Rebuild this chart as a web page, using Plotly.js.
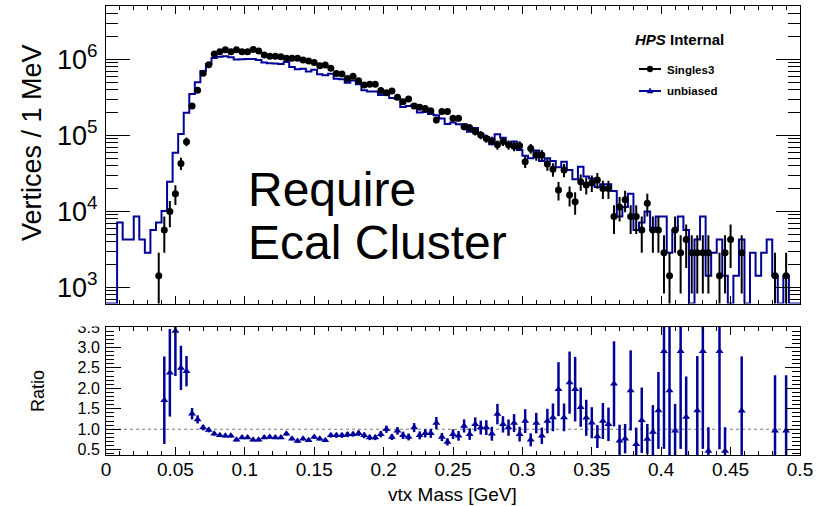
<!DOCTYPE html>
<html>
<head>
<meta charset="utf-8">
<script src="https://cdn.plot.ly/plotly-3.0.1.min.js"></script>
<style>
  html, body { margin: 0; padding: 0; background: #fff; }
  #chart { width: 825px; height: 506px; }
</style>
</head>
<body>
<div id="chart"></div>
<script>
// Vertex invariant-mass spectra in 4 MeV bins over 0 - 0.5 GeV
const BIN_WIDTH = 0.004;
const N_BINS = 125;
const MASS_MIN = 0;

// Singles3 trigger: counts and errors per bin (0 = empty bin)
const singles3Counts = [
  0, 0, 0, 0, 0, 0, 0, 0, 0, 1420,
  5680, 9940, 17040, 42700, 82400, 243000, 390000, 653000, 849000, 1170000,
  1260000, 1330000, 1260000, 1330000, 1260000, 1260000, 1350000, 1290000, 1140000, 1100000,
  1100000, 1080000, 1030000, 1030000, 1030000, 980000, 950000, 910000, 820000, 840000,
  760000, 650000, 640000, 560000, 600000, 520000, 460000, 470000, 470000, 387000,
  364000, 383000, 316000, 277000, 300000, 243000, 234000, 226000, 211000, 159000,
  205000, 205000, 167000, 167000, 130000, 126000, 112000, 101000, 91000, 85000,
  75000, 83000, 75000, 72000, 73000, 45000, 67000, 55000, 55000, 42000,
  35700, 19100, 35000, 16400, 13400, 24500, 22200, 23800, 25800, 19880,
  19880, 8520, 11360, 14200, 8520, 8520, 5680, 12780, 5680, 5680,
  2840, 1420, 5680, 2840, 4260, 2840, 2840, 2840, 2840, 0,
  1420, 2840, 4260, 0, 2840, 0, 0, 0, 0, 0,
  1420, 0, 1420, 0, 0
];
const singles3Errors = [
  0, 0, 0, 0, 0, 0, 0, 0, 0, 1420,
  2840, 3760, 4920, 7790, 10800, 18600, 23500, 30500, 34700, 40760,
  42300, 43460, 42300, 43460, 42300, 42300, 43780, 42800, 40230, 39520,
  39520, 39160, 38240, 38240, 38240, 37300, 36730, 35950, 34120, 34540,
  32850, 30380, 30150, 28200, 29190, 27170, 25560, 25830, 25830, 23440,
  22730, 23320, 21180, 19830, 20640, 18580, 18230, 17910, 17310, 15030,
  17060, 17060, 15400, 15400, 13590, 13380, 12610, 11980, 11370, 10990,
  10320, 10860, 10320, 10110, 10180, 7990, 9750, 8840, 8840, 7720,
  7120, 5210, 7050, 4830, 4360, 5900, 5610, 5810, 6050, 5310,
  5310, 3480, 4020, 4490, 3480, 3480, 2840, 4260, 2840, 2840,
  2010, 1420, 2840, 2010, 2460, 2010, 2010, 2010, 2010, 0,
  1420, 2010, 2460, 0, 2010, 0, 0, 0, 0, 0,
  1420, 0, 1420, 0, 0
];

// Unbiased trigger: counts per bin
const unbiasedCounts = [
  0, 0, 7100, 4260, 4260, 8520, 4260, 2840, 5680, 7100,
  10100, 24500, 59000, 104000, 198000, 349000, 498000, 701000, 867000, 1040000,
  1080000, 1100000, 1060000, 990000, 1000000, 1010000, 1010000, 980000, 910000, 890000,
  880000, 865000, 920000, 790000, 740000, 750000, 690000, 730000, 635000, 615000,
  645000, 555000, 545000, 490000, 525000, 470000, 392000, 376000, 376000, 340000,
  362000, 310000, 303000, 236000, 243000, 252000, 199000, 203000, 190000, 183000,
  166000, 141000, 147000, 140000, 140000, 111000, 125000, 105000, 95000, 76000,
  103000, 93000, 78000, 83000, 64000, 54000, 50000, 63000, 46000, 50000,
  46000, 38000, 45000, 35000, 26500, 38500, 28600, 27100, 20900, 22720,
  22720, 18460, 8520, 11360, 17040, 5680, 7100, 9940, 5680, 8520,
  8520, 2840, 5680, 8520, 5680, 0, 4260, 8520, 1420, 2840,
  4260, 1420, 0, 1420, 4260, 0, 2840, 1420, 2840, 4260,
  1420, 0, 1420, 0, 0
];

// unbiased / Singles3 per bin (null = not drawn)
const ratioValues = [
  null, null, null, null, null, null, null, null, null, null,
  1.71, 2.38, 3.40, 2.50, 2.42, 1.38, 1.24, 1.04, 0.98, 0.89,
  0.85, 0.84, 0.84, 0.74, 0.80, 0.80, 0.74, 0.74, 0.80, 0.81,
  0.80, 0.80, 0.89, 0.77, 0.71, 0.77, 0.73, 0.81, 0.77, 0.73,
  0.85, 0.85, 0.85, 0.87, 0.88, 0.90, 0.85, 0.80, 0.80, 0.88,
  1.00, 0.81, 0.96, 0.85, 0.81, 1.04, 0.85, 0.90, 0.90, 1.15,
  0.81, 0.69, 0.88, 0.84, 1.08, 0.88, 1.12, 1.04, 1.04, 0.89,
  1.37, 1.12, 1.04, 1.15, 0.88, 1.20, 0.74, 1.15, 0.84, 1.20,
  1.29, 1.98, 1.29, 2.14, 1.98, 1.54, 1.28, 1.16, 0.82, 1.20,
  1.12, 2.11, 0.72, 0.77, 1.95, 0.63, 1.22, 0.76, 0.93, 1.46,
  2.91, 1.95, 0.96, 2.91, 1.30, null, 1.46, 2.91, 0.47, null,
  2.91, 0.47, null, null, 1.45, null, null, null, null, null,
  0.96, null, 0.96, null, null
];
const ratioErrors = [
  null, null, null, null, null, null, null, null, null, null,
  1.07, 1.07, 1.10, 0.54, 0.37, 0.14, 0.10, 0.067, 0.056, 0.045,
  0.040, 0.040, 0.040, 0.038, 0.040, 0.040, 0.038, 0.038, 0.040, 0.041,
  0.041, 0.041, 0.045, 0.042, 0.040, 0.043, 0.042, 0.046, 0.046, 0.044,
  0.054, 0.059, 0.060, 0.064, 0.062, 0.068, 0.070, 0.066, 0.066, 0.078,
  0.089, 0.073, 0.092, 0.090, 0.083, 0.11, 0.097, 0.10, 0.11, 0.15,
  0.10, 0.09, 0.12, 0.12, 0.16, 0.14, 0.17, 0.17, 0.18, 0.17,
  0.25, 0.20, 0.20, 0.22, 0.18, 0.29, 0.16, 0.25, 0.20, 0.30,
  0.34, 0.66, 0.34, 0.76, 0.79, 0.48, 0.44, 0.38, 0.28, 0.44,
  0.41, 1.04, 0.39, 0.36, 0.98, 0.41, 0.80, 0.37, 0.66, 0.94,
  2.39, 2.39, 0.66, 2.39, 0.99, null, 1.33, 2.39, 0.58, null,
  2.40, 0.58, null, null, 1.33, null, null, null, null, null,
  1.36, null, 1.36, null, null
];

const yTickValues = [1e3, 1e4, 1e5, 1e6];
const yTickLabels = ['10<sup>3</sup>', '10<sup>4</sup>', '10<sup>5</sup>', '10<sup>6</sup>'];
const ratioTickValues = [0.5, 1.0, 1.5, 2.0, 2.5, 3.0, 3.5];
const ratioTickLabels = ['0.5', '1.0', '1.5', '2.0', '2.5', '3.0', '3.5'];

// ---- styling / layout constants ----
const BLACK = '#000000';
const BLUE = 'rgb(0,0,153)';
const FONT = 'Liberation Sans, Arial, Helvetica, sans-serif';
const Y_LOG_RANGE = [2.787, 6.701];
const RATIO_RANGE = [0.37, 3.5];
const X_RANGE = [0, 0.5];

// plot frame in pixels
const FRAME = { left: 106, right: 800, top: 6, bottom: 455 };
const W = 825, H = 506;
const pxX = px => (px - FRAME.left) / (FRAME.right - FRAME.left);
const pxY = py => (FRAME.bottom - py) / (FRAME.bottom - FRAME.top);

// bin geometry
const binEdges = Array.from({ length: N_BINS + 1 }, (_, i) => MASS_MIN + i * BIN_WIDTH);
const binCenters = binEdges.slice(0, N_BINS).map(e => e + BIN_WIDTH / 2);

// step outline of the unbiased histogram; empty bins sit on the frame floor
const floorLevel = Math.pow(10, Y_LOG_RANGE[0]);
const stepY = unbiasedCounts.map(v => (v > 0 ? v : floorLevel));
stepY.push(stepY[stepY.length - 1]);

// Singles3 points
const sIdx = singles3Counts.map((v, i) => (v > 0 ? i : -1)).filter(i => i >= 0);

// ratio points
const rIdx = ratioValues.map((v, i) => (v !== null ? i : -1)).filter(i => i >= 0);

const traces = [
  {
    type: 'scatter', mode: 'lines', name: 'unbiased',
    x: binEdges, y: stepY,
    line: { shape: 'hv', color: BLUE, width: 2 },
    xaxis: 'x', yaxis: 'y', hoverinfo: 'skip'
  },
  {
    type: 'scatter', mode: 'markers', name: 'Singles3',
    x: sIdx.map(i => binCenters[i]),
    y: sIdx.map(i => singles3Counts[i]),
    error_y: { type: 'data', array: sIdx.map(i => singles3Errors[i]), visible: true,
               color: BLACK, thickness: 2, width: 0 },
    marker: { symbol: 'circle', size: 7, color: BLACK },
    xaxis: 'x', yaxis: 'y'
  },
  {
    type: 'scatter', mode: 'markers', name: 'ratio',
    x: rIdx.map(i => binCenters[i]),
    y: rIdx.map(i => ratioValues[i]),
    error_y: { type: 'data', array: rIdx.map(i => ratioErrors[i]), visible: true,
               color: BLUE, thickness: 2.5, width: 0 },
    marker: { symbol: 'triangle-up', size: 7, color: BLUE },
    xaxis: 'x2', yaxis: 'y2'
  }
];

// minor ticks of the log axis at 2..9 x 10^n
const logMinor = [];
for (let d = 2; d <= 6; d++) {
  for (let m = 2; m <= 9; m++) logMinor.push(m * Math.pow(10, d));
}

const frameAxis = {
  showline: true, linecolor: BLACK, linewidth: 1, mirror: 'allticks',
  showgrid: false, zeroline: false, ticks: 'inside', tickcolor: BLACK, tickwidth: 1
};

const layout = {
  width: W, height: H,
  margin: { l: FRAME.left, r: W - FRAME.right, t: FRAME.top, b: H - FRAME.bottom, pad: 0 },
  paper_bgcolor: '#ffffff', plot_bgcolor: '#ffffff',
  showlegend: false,
  font: { family: FONT, color: BLACK },
  xaxis: Object.assign({}, frameAxis, {
    domain: [0, 1], anchor: 'y', range: X_RANGE,
    tick0: 0, dtick: 0.05, ticklen: 8, showticklabels: false,
    minor: { dtick: 0.01, ticks: 'inside', ticklen: 4, tickcolor: BLACK, showgrid: false }
  }),
  yaxis: Object.assign({}, frameAxis, {
    domain: [pxY(303.5), 1], anchor: 'x', type: 'log', range: Y_LOG_RANGE,
    tickmode: 'array', tickvals: yTickValues, ticktext: yTickLabels,
    ticklen: 24, tickfont: { size: 27, family: FONT }, ticklabelstandoff: 2,
    minor: { tickmode: 'array', tickvals: logMinor, ticks: 'inside', ticklen: 12,
             tickcolor: BLACK, showgrid: false }
  }),
  xaxis2: Object.assign({}, frameAxis, {
    domain: [0, 1], anchor: 'y2', range: X_RANGE,
    tick0: 0, dtick: 0.05, ticklen: 8,
    tickfont: { size: 19, family: FONT }, ticklabelstandoff: -3,
    minor: { dtick: 0.01, ticks: 'inside', ticklen: 4, tickcolor: BLACK, showgrid: false }
  }),
  yaxis2: Object.assign({}, frameAxis, {
    domain: [0, pxY(327)], anchor: 'x2', range: RATIO_RANGE,
    tickmode: 'array', tickvals: ratioTickValues, ticktext: ratioTickLabels,
    ticklen: 15, tickfont: { size: 16, family: FONT }, ticklabelstandoff: 2,
    minor: { dtick: 0.1, tick0: 0, ticks: 'inside', ticklen: 8, tickcolor: BLACK, showgrid: false }
  }),
  shapes: [
    // unity reference in the ratio panel
    { type: 'line', xref: 'x2', yref: 'y2', x0: X_RANGE[0], x1: X_RANGE[1], y0: 1, y1: 1,
      line: { color: '#777777', width: 1, dash: 'dot' }, layer: 'below' },
    // pad edge above the ratio panel trims the top tick label
    { type: 'rect', xref: 'paper', yref: 'paper', x0: pxX(40), x1: pxX(104.5),
      y0: pxY(326.5), y1: pxY(304.5), fillcolor: '#ffffff', line: { width: 0 }, layer: 'above' },
    // legend samples
    { type: 'line', xref: 'paper', yref: 'paper', x0: pxX(639), x1: pxX(661),
      y0: pxY(69), y1: pxY(69), line: { color: BLACK, width: 2 } },
    { type: 'circle', xref: 'paper', yref: 'paper', xsizemode: 'pixel', ysizemode: 'pixel',
      xanchor: pxX(650), yanchor: pxY(69), x0: -3, x1: 3, y0: -3, y1: 3,
      fillcolor: BLACK, line: { color: BLACK, width: 0.5 } },
    { type: 'line', xref: 'paper', yref: 'paper', x0: pxX(639), x1: pxX(661),
      y0: pxY(91), y1: pxY(91), line: { color: BLUE, width: 2 } },
    { type: 'path', xref: 'paper', yref: 'paper', xsizemode: 'pixel', ysizemode: 'pixel',
      xanchor: pxX(650), yanchor: pxY(91), path: 'M-3,-2L3,-2L0,3Z',
      fillcolor: BLUE, line: { color: BLUE, width: 0.5 } }
  ],
  annotations: [
    { text: 'Vertices / 1 MeV', xref: 'paper', yref: 'paper', x: pxX(32), y: pxY(143),
      textangle: -90, showarrow: false, xanchor: 'center', yanchor: 'middle',
      font: { size: 27, family: FONT, color: BLACK } },
    { text: 'Ratio', xref: 'paper', yref: 'paper', x: pxX(38), y: pxY(391),
      textangle: -90, showarrow: false, xanchor: 'center', yanchor: 'middle',
      font: { size: 18, family: FONT, color: BLACK } },
    { text: 'vtx Mass [GeV]', xref: 'paper', yref: 'paper', x: pxX(452), y: pxY(494),
      showarrow: false, xanchor: 'center', yanchor: 'middle',
      font: { size: 19, family: FONT, color: BLACK } },
    { text: 'Require', xref: 'paper', yref: 'paper', x: pxX(246), y: pxY(189),
      showarrow: false, xanchor: 'left', yanchor: 'middle',
      font: { size: 48, family: FONT, color: BLACK } },
    { text: 'Ecal Cluster', xref: 'paper', yref: 'paper', x: pxX(246), y: pxY(242),
      showarrow: false, xanchor: 'left', yanchor: 'middle',
      font: { size: 48, family: FONT, color: BLACK } },
    { text: '<b><i>HPS</i> Internal</b>', xref: 'paper', yref: 'paper', x: pxX(633), y: pxY(39),
      showarrow: false, xanchor: 'left', yanchor: 'middle',
      font: { size: 15, family: FONT, color: BLACK } },
    { text: '<b>Singles3</b>', xref: 'paper', yref: 'paper', x: pxX(665), y: pxY(69.5),
      showarrow: false, xanchor: 'left', yanchor: 'middle',
      font: { size: 11.5, family: FONT, color: BLACK } },
    { text: '<b>unbiased</b>', xref: 'paper', yref: 'paper', x: pxX(665), y: pxY(91.5),
      showarrow: false, xanchor: 'left', yanchor: 'middle',
      font: { size: 11.5, family: FONT, color: BLACK } }
  ]
};

Plotly.newPlot('chart', traces, layout, { staticPlot: true, displayModeBar: false });
</script>
</body>
</html>
